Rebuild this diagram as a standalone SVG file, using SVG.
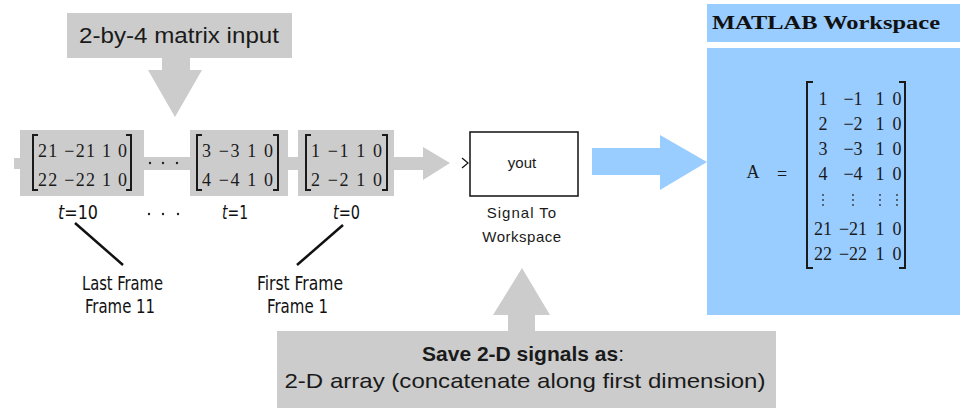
<svg xmlns="http://www.w3.org/2000/svg" width="960" height="408" viewBox="0 0 960 408">
<style>
.g{fill:#cccccc}
.b{fill:#99ccff}
.mx{font-family:"Liberation Serif","Times New Roman",serif;font-size:18px;fill:#1a1a1a}
.br{fill:none;stroke:#1a1a1a;stroke-width:2}
.lab{font-family:"DejaVu Sans Condensed","DejaVu Sans",sans-serif;font-size:19px;fill:#111}
.sans{font-family:"Liberation Sans",Arial,sans-serif;fill:#1a1a1a}
.ld{stroke:#111;stroke-width:2.5;fill:none}
</style>
<rect width="960" height="408" fill="#ffffff"/>

<g id="input-label">
  <rect class="g" x="67" y="13" width="225" height="45"/>
  <text class="sans" x="179" y="43" font-size="22" text-anchor="middle" textLength="200" lengthAdjust="spacingAndGlyphs">2-by-4 matrix input</text>
  <polygon class="g" points="162,58 190,58 190,70 202,70 175,117 148,70 162,70"/>
</g>

<g id="frame-stream">
  <rect class="g" x="14" y="158" width="8" height="11"/>
  <rect class="g" x="143" y="157" width="50" height="13"/>
  <rect class="g" x="286" y="157" width="14" height="13"/>
  <polygon class="g" points="393,157 423,157 423,147 450,163 423,180 423,170 393,170"/>
  <g fill="#222">
    <circle cx="150" cy="163" r="1.2"/><circle cx="163" cy="163" r="1.2"/><circle cx="177" cy="163" r="1.2"/>
  </g>
</g>

<g id="frame-t10">
  <rect class="g" x="20" y="130" width="124" height="66"/>
  <path class="br" d="M38,135 H33 V190 H38 M126,135 H131 V190 H126"/>
  <text class="mx" x="38" y="157" textLength="89" lengthAdjust="spacing">21 −21 1 0</text>
  <text class="mx" x="38" y="186" textLength="89" lengthAdjust="spacing">22 −22 1 0</text>
</g>

<g id="frame-t1">
  <rect class="g" x="190" y="130" width="98" height="66"/>
  <path class="br" d="M202,135 H197 V190 H202 M273,135 H278 V190 H273"/>
  <text class="mx" x="202" y="157" textLength="71" lengthAdjust="spacing">3 −3 1 0</text>
  <text class="mx" x="202" y="186" textLength="71" lengthAdjust="spacing">4 −4 1 0</text>
</g>

<g id="frame-t0">
  <rect class="g" x="298" y="130" width="96" height="66"/>
  <path class="br" d="M311,135 H306 V190 H311 M382,135 H387 V190 H382"/>
  <text class="mx" x="311" y="157" textLength="71" lengthAdjust="spacing">1 −1 1 0</text>
  <text class="mx" x="311" y="186" textLength="71" lengthAdjust="spacing">2 −2 1 0</text>
</g>

<g id="time-labels">
  <text class="lab" x="58" y="219" textLength="40" lengthAdjust="spacingAndGlyphs"><tspan font-style="italic">t</tspan>=10</text>
  <g fill="#222"><circle cx="149" cy="214" r="1.2"/><circle cx="163" cy="214" r="1.2"/><circle cx="178" cy="214" r="1.2"/></g>
  <text class="lab" x="222" y="219" textLength="26" lengthAdjust="spacingAndGlyphs"><tspan font-style="italic">t</tspan>=1</text>
  <text class="lab" x="333" y="219" textLength="27" lengthAdjust="spacingAndGlyphs"><tspan font-style="italic">t</tspan>=0</text>
</g>

<g id="connectors">
  <line class="ld" x1="75" y1="223" x2="123" y2="265"/>
  <line class="ld" x1="343" y1="225" x2="297" y2="265"/>
</g>

<g id="last-frame">
  <text class="lab" x="82" y="290" textLength="81" lengthAdjust="spacingAndGlyphs">Last Frame</text>
  <text class="lab" x="85" y="313" textLength="70" lengthAdjust="spacingAndGlyphs">Frame 11</text>
</g>

<g id="first-frame">
  <text class="lab" x="257" y="290" textLength="86" lengthAdjust="spacingAndGlyphs">First Frame</text>
  <text class="lab" x="267" y="313" textLength="61" lengthAdjust="spacingAndGlyphs">Frame 1</text>
</g>

<g id="signal-to-workspace">
  <path d="M462,158 L468,163 L462,168" fill="none" stroke="#111" stroke-width="1.2"/>
  <rect x="470" y="132" width="108" height="64" fill="#ffffff" stroke="#111" stroke-width="1.5"/>
  <text class="sans" x="522" y="168" font-size="15" text-anchor="middle" fill="#111">yout</text>
  <text class="sans" x="522" y="218" font-size="15" text-anchor="middle" fill="#111" letter-spacing="1">Signal To</text>
  <text class="sans" x="522" y="242" font-size="15" text-anchor="middle" fill="#111" letter-spacing="0.5">Workspace</text>
</g>

<g id="to-workspace-arrow">
  <polygon class="b" points="592,148 660,148 660,135 707,162 660,190 660,175 592,175"/>
</g>

<g id="matlab-workspace">
  <rect class="b" x="707" y="4" width="253" height="38"/>
  <text x="712" y="29" font-family="Liberation Serif,'Times New Roman',serif" font-weight="bold" font-size="18" fill="#111" textLength="228" lengthAdjust="spacingAndGlyphs">MATLAB Workspace</text>
  <rect class="b" x="707" y="48" width="253" height="267"/>
  <text x="753" y="178" class="mx" font-size="15" text-anchor="middle">A</text>
  <text x="782" y="180" class="mx" font-size="22" text-anchor="middle">=</text>
  <path class="br" d="M813,82 H807 V268 H813 M899,82 H905 V268 H899"/>
  <g class="mx" text-anchor="middle">
    <text x="823" y="105">1</text><text x="853" y="105">−1</text><text x="880" y="105">1</text><text x="897" y="105">0</text>
    <text x="823" y="130">2</text><text x="853" y="130">−2</text><text x="880" y="130">1</text><text x="897" y="130">0</text>
    <text x="823" y="155">3</text><text x="853" y="155">−3</text><text x="880" y="155">1</text><text x="897" y="155">0</text>
    <text x="823" y="180">4</text><text x="853" y="180">−4</text><text x="880" y="180">1</text><text x="897" y="180">0</text>
    <text x="823" y="235">21</text><text x="853" y="235">−21</text><text x="880" y="235">1</text><text x="897" y="235">0</text>
    <text x="823" y="260">22</text><text x="853" y="260">−22</text><text x="880" y="260">1</text><text x="897" y="260">0</text>
  </g>
  <g fill="#333">
    <circle cx="823" cy="195" r="0.9"/><circle cx="823" cy="200" r="0.9"/><circle cx="823" cy="205" r="0.9"/>
    <circle cx="853" cy="195" r="0.9"/><circle cx="853" cy="200" r="0.9"/><circle cx="853" cy="205" r="0.9"/>
    <circle cx="880" cy="195" r="0.9"/><circle cx="880" cy="200" r="0.9"/><circle cx="880" cy="205" r="0.9"/>
    <circle cx="897" cy="195" r="0.9"/><circle cx="897" cy="200" r="0.9"/><circle cx="897" cy="205" r="0.9"/>
  </g>
</g>

<g id="save-format">
  <polygon class="g" points="508,331 508,315 493,315 522,268 550,315 535,315 535,331"/>
  <rect class="g" x="277" y="331" width="499" height="77"/>
  <text class="sans" x="523" y="361" font-size="21" text-anchor="middle"><tspan font-weight="bold">Save 2-D signals as</tspan>:</text>
  <text class="sans" x="525" y="388" font-size="21" text-anchor="middle" textLength="481" lengthAdjust="spacingAndGlyphs">2-D array (concatenate along first dimension)</text>
</g>
</svg>
